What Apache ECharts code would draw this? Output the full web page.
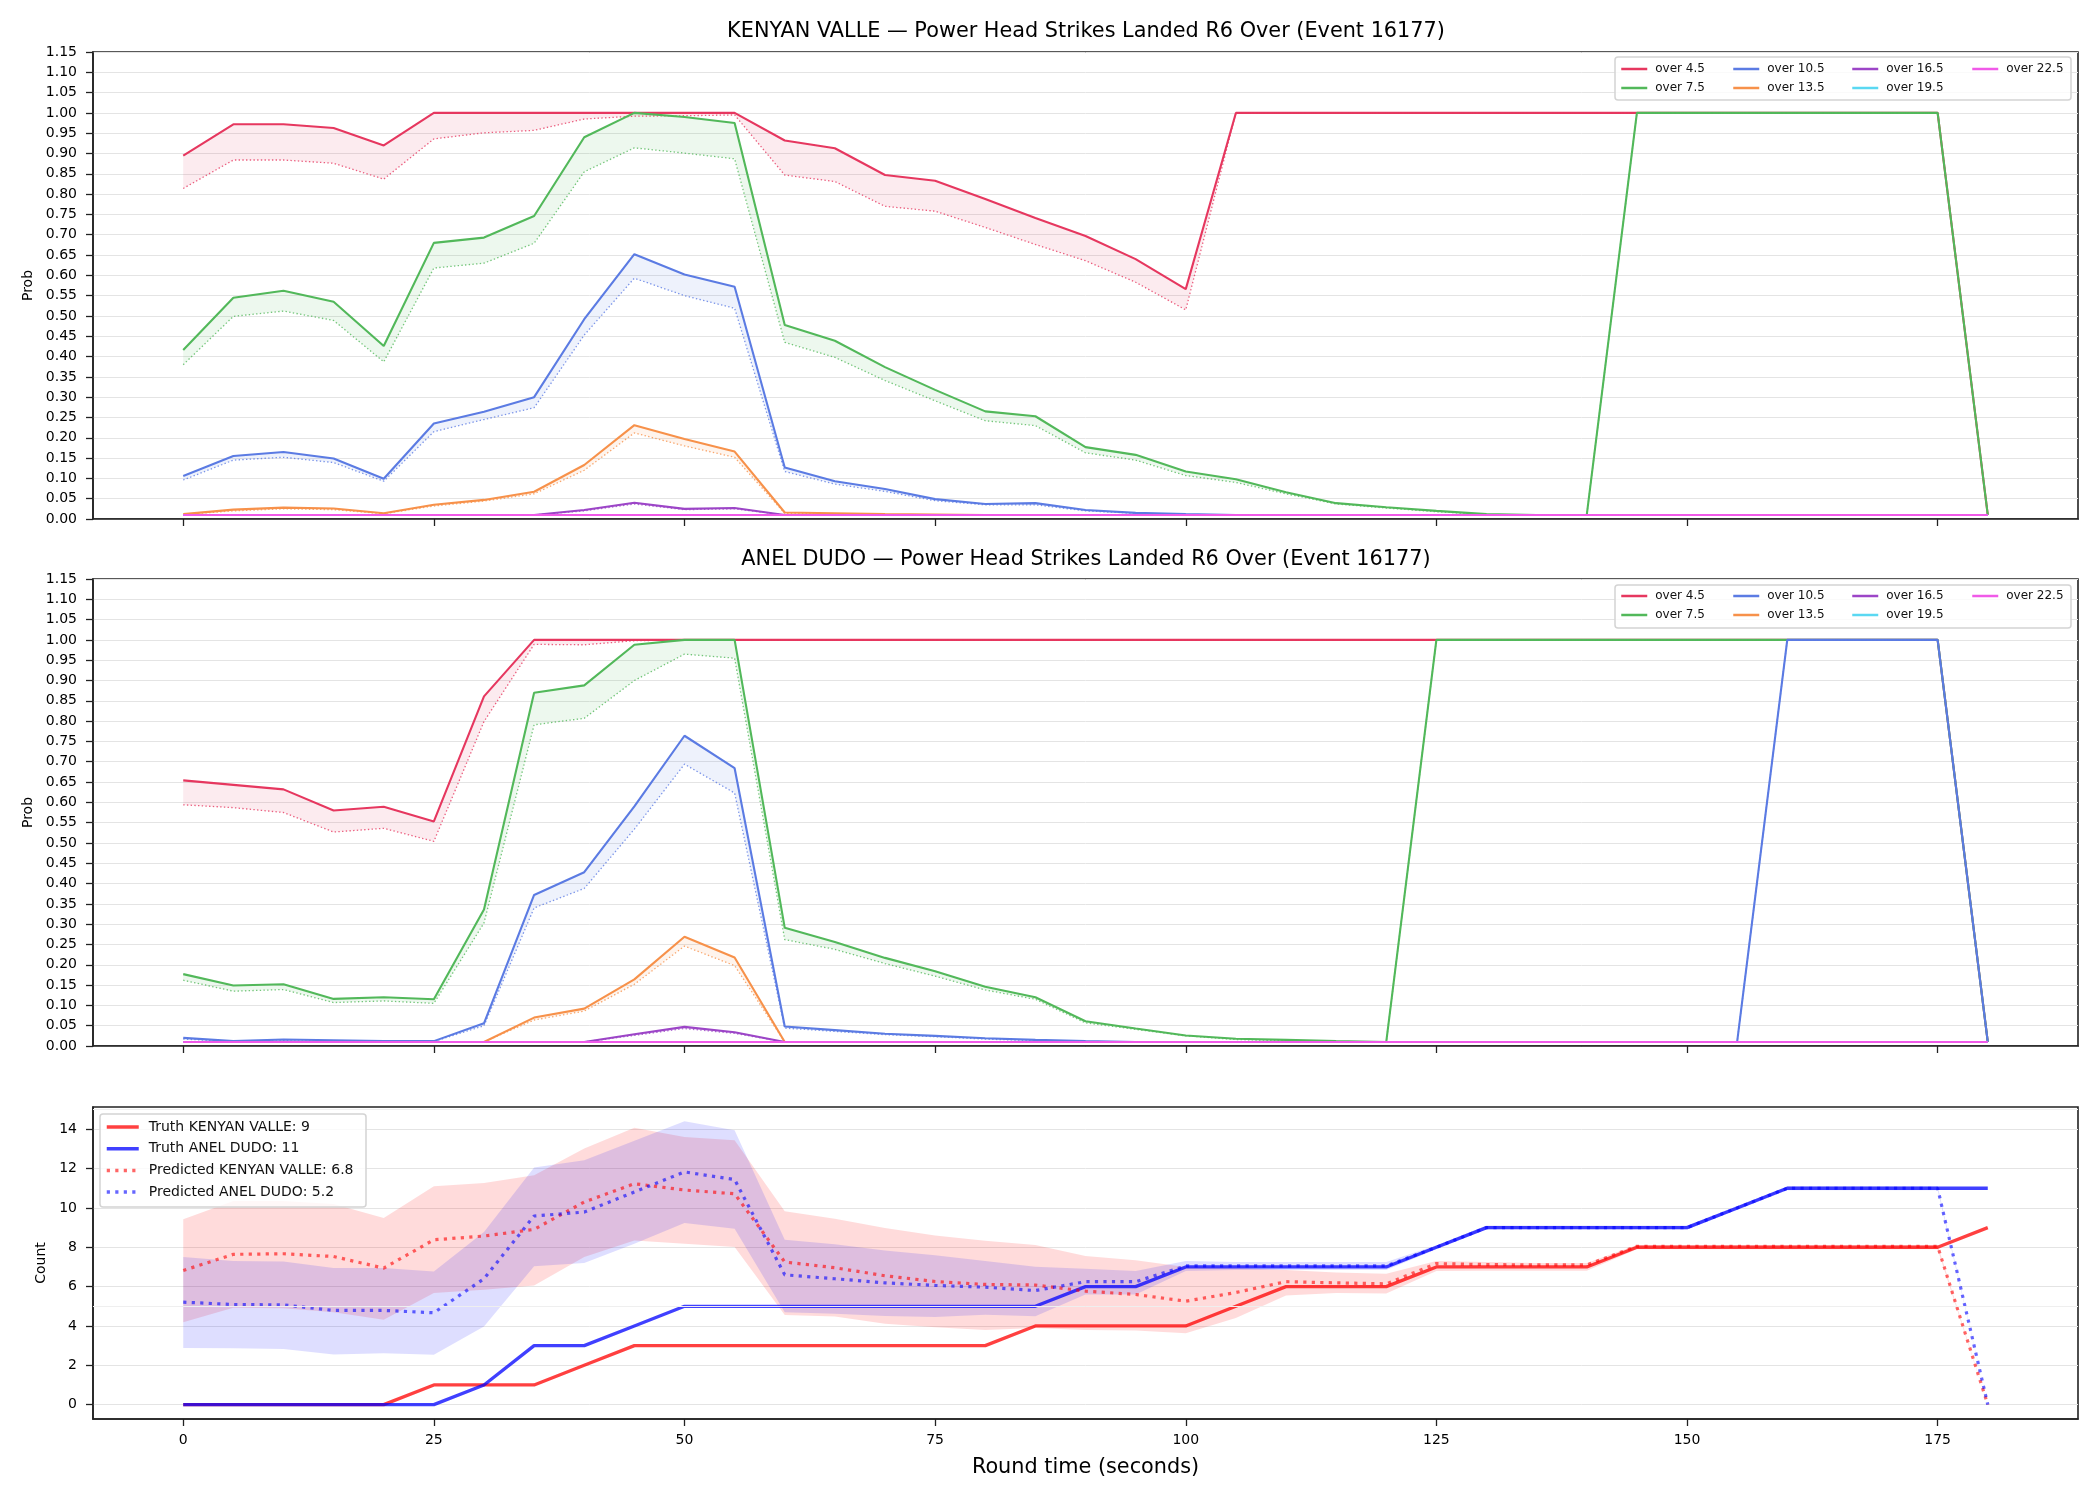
<!DOCTYPE html>
<html>
<head>
<meta charset="utf-8">
<title>Power Head Strikes Landed R6 Over (Event 16177)</title>
<script src="https://cdn.jsdelivr.net/npm/echarts@6/dist/echarts.min.js"></script>
<style>
  html, body { margin: 0; padding: 0; background: #fff; }
  #chart { width: 2100px; height: 1500px; }
</style>
</head>
<body>
<div id="chart"></div>
<script>
// round time (seconds), one point every 5 s
var times = [0, 5, 10, 15, 20, 25, 30, 35, 40, 45, 50, 55, 60, 65, 70, 75, 80, 85, 90,
  95, 100, 105, 110, 115, 120, 125, 130, 135, 140, 145, 150, 155, 160, 165, 170, 175, 180];
var xTicks = [0, 25, 50, 75, 100, 125, 150, 175];
var countTicks = [0, 2, 4, 6, 8, 10, 12, 14];

var lineNames = ['over 4.5', 'over 7.5', 'over 10.5', 'over 13.5', 'over 16.5', 'over 19.5', 'over 22.5'];
var lineColors = ['#e6375f', '#52b85a', '#5b7be3', '#f7914a', '#9c45c7', '#5ad8f2', '#f05ae8'];

// ---- KENYAN VALLE, solid = model line, p = dotted line
var kv45 = [0.895, 0.972, 0.972, 0.963, 0.920, 1, 1, 1, 1, 1, 1, 1,
  0.932, 0.913, 0.847, 0.833, 0.788, 0.741, 0.697, 0.640, 0.566,
  1, 1, 1, 1, 1, 1, 1, 1, 1, 1, 1, 1, 1, 1, 1, 0.01];
var kv45p = [0.814, 0.884, 0.884, 0.876, 0.837, 0.936, 0.951, 0.957, 0.985, 0.992, 0.993, 0.995,
  0.847, 0.831, 0.770, 0.758, 0.718, 0.676, 0.636, 0.583, 0.515,
  1, 1, 1, 1, 1, 1, 1, 1, 1, 1, 1, 1, 1, 1, 1, 0.01];
var kv75 = [0.416, 0.545, 0.562, 0.535, 0.426, 0.680, 0.693, 0.746, 0.940, 1.0, 0.990, 0.975,
  0.478, 0.439, 0.374, 0.318, 0.265, 0.253, 0.177, 0.158, 0.117,
  0.098, 0.066, 0.039, 0.029, 0.020, 0.012, 0.010, 0.010,
  1, 1, 1, 1, 1, 1, 1, 0.01];
var kv75p = [0.380, 0.499, 0.512, 0.489, 0.387, 0.618, 0.630, 0.679, 0.855, 0.914, 0.901, 0.887,
  0.435, 0.398, 0.341, 0.291, 0.242, 0.230, 0.163, 0.145, 0.107,
  0.090, 0.062, 0.037, 0.027, 0.018, 0.011, 0.010, 0.010,
  1, 1, 1, 1, 1, 1, 1, 0.01];
var kv105 = [0.106, 0.155, 0.165, 0.149, 0.099, 0.235, 0.264, 0.300, 0.492, 0.652, 0.602, 0.572,
  0.127, 0.093, 0.074, 0.049, 0.037, 0.039, 0.022, 0.015, 0.012,
  0.010, 0.010, 0.010, 0.010, 0.010, 0.010, 0.010, 0.010,
  0.010, 0.010, 0.010, 0.010, 0.010, 0.010, 0.010, 0.010];
var kv105p = [0.096, 0.145, 0.152, 0.139, 0.093, 0.215, 0.245, 0.274, 0.453, 0.593, 0.550, 0.519,
  0.117, 0.086, 0.068, 0.045, 0.035, 0.035, 0.020, 0.014, 0.011,
  0.010, 0.010, 0.010, 0.010, 0.010, 0.010, 0.010, 0.010,
  0.010, 0.010, 0.010, 0.010, 0.010, 0.010, 0.010, 0.010];
var kv135 = [0.012, 0.023, 0.028, 0.026, 0.014, 0.035, 0.047, 0.067, 0.133, 0.231, 0.197, 0.166,
  0.016, 0.014, 0.012, 0.011, 0.010, 0.010, 0.010, 0.010, 0.010,
  0.010, 0.010, 0.010, 0.010, 0.010, 0.010, 0.010, 0.010,
  0.010, 0.010, 0.010, 0.010, 0.010, 0.010, 0.010, 0.010];
var kv135p = [0.011, 0.020, 0.025, 0.023, 0.013, 0.032, 0.044, 0.062, 0.120, 0.212, 0.180, 0.152,
  0.014, 0.012, 0.011, 0.010, 0.010, 0.010, 0.010, 0.010, 0.010,
  0.010, 0.010, 0.010, 0.010, 0.010, 0.010, 0.010, 0.010,
  0.010, 0.010, 0.010, 0.010, 0.010, 0.010, 0.010, 0.010];
var kv165 = [0.010, 0.010, 0.010, 0.010, 0.010, 0.010, 0.010, 0.010, 0.022, 0.040, 0.025, 0.027,
  0.010, 0.010, 0.010, 0.010, 0.010, 0.010, 0.010, 0.010, 0.010,
  0.010, 0.010, 0.010, 0.010, 0.010, 0.010, 0.010, 0.010,
  0.010, 0.010, 0.010, 0.010, 0.010, 0.010, 0.010, 0.010];
var kv165p = [0.010, 0.010, 0.010, 0.010, 0.010, 0.010, 0.010, 0.010, 0.020, 0.037, 0.023, 0.025,
  0.010, 0.010, 0.010, 0.010, 0.010, 0.010, 0.010, 0.010, 0.010,
  0.010, 0.010, 0.010, 0.010, 0.010, 0.010, 0.010, 0.010,
  0.010, 0.010, 0.010, 0.010, 0.010, 0.010, 0.010, 0.010];
// over 19.5 / over 22.5 sit on the floor the whole round (both players)
var floorProb = [0.010, 0.010, 0.010, 0.010, 0.010, 0.010, 0.010, 0.010, 0.010, 0.010, 0.010, 0.010,
  0.010, 0.010, 0.010, 0.010, 0.010, 0.010, 0.010, 0.010, 0.010,
  0.010, 0.010, 0.010, 0.010, 0.010, 0.010, 0.010, 0.010,
  0.010, 0.010, 0.010, 0.010, 0.010, 0.010, 0.010, 0.010];

// ---- ANEL DUDO
var ad45 = [0.654, 0.643, 0.632, 0.580, 0.589, 0.553, 0.861, 1, 1, 1, 1, 1,
  1, 1, 1, 1, 1, 1, 1, 1, 1,
  1, 1, 1, 1, 1, 1, 1, 1, 1, 1, 1, 1, 1, 1, 1, 0.01];
var ad45p = [0.594, 0.587, 0.575, 0.527, 0.536, 0.504, 0.799, 0.989, 0.988, 0.998, 1, 1,
  1, 1, 1, 1, 1, 1, 1, 1, 1,
  1, 1, 1, 1, 1, 1, 1, 1, 1, 1, 1, 1, 1, 1, 1, 0.01];
var ad75 = [0.177, 0.149, 0.152, 0.116, 0.120, 0.115, 0.336, 0.870, 0.888, 0.988, 1, 1,
  0.291, 0.256, 0.217, 0.184, 0.146, 0.120, 0.061, 0.043, 0.026,
  0.018, 0.015, 0.012, 0.010, 1, 1, 1, 1, 1, 1, 1, 1, 1, 1, 1, 0.01];
var ad75p = [0.162, 0.135, 0.139, 0.107, 0.111, 0.105, 0.303, 0.791, 0.807, 0.900, 0.965, 0.955,
  0.262, 0.238, 0.203, 0.172, 0.138, 0.115, 0.057, 0.041, 0.025,
  0.016, 0.013, 0.011, 0.010, 1, 1, 1, 1, 1, 1, 1, 1, 1, 1, 1, 0.01];
var ad105 = [0.020, 0.012, 0.016, 0.014, 0.012, 0.012, 0.056, 0.372, 0.428, 0.590, 0.764, 0.684,
  0.048, 0.039, 0.030, 0.025, 0.019, 0.015, 0.012, 0.010, 0.010,
  0.010, 0.010, 0.010, 0.010, 0.010, 0.010, 0.010, 0.010, 0.010, 0.010, 0.010,
  1, 1, 1, 1, 0.01];
var ad105p = [0.017, 0.011, 0.013, 0.012, 0.011, 0.011, 0.050, 0.340, 0.388, 0.534, 0.694, 0.623,
  0.044, 0.036, 0.028, 0.023, 0.017, 0.013, 0.011, 0.010, 0.010,
  0.010, 0.010, 0.010, 0.010, 0.010, 0.010, 0.010, 0.010, 0.010, 0.010, 0.010,
  1, 1, 1, 1, 0.01];
var ad135 = [0.010, 0.010, 0.010, 0.010, 0.010, 0.010, 0.010, 0.070, 0.092, 0.164, 0.269, 0.218,
  0.010, 0.010, 0.010, 0.010, 0.010, 0.010, 0.010, 0.010, 0.010,
  0.010, 0.010, 0.010, 0.010, 0.010, 0.010, 0.010, 0.010,
  0.010, 0.010, 0.010, 0.010, 0.010, 0.010, 0.010, 0.010];
var ad135p = [0.010, 0.010, 0.010, 0.010, 0.010, 0.010, 0.010, 0.064, 0.086, 0.152, 0.246, 0.198,
  0.010, 0.010, 0.010, 0.010, 0.010, 0.010, 0.010, 0.010, 0.010,
  0.010, 0.010, 0.010, 0.010, 0.010, 0.010, 0.010, 0.010,
  0.010, 0.010, 0.010, 0.010, 0.010, 0.010, 0.010, 0.010];
var ad165 = [0.010, 0.010, 0.010, 0.010, 0.010, 0.010, 0.010, 0.010, 0.010, 0.029, 0.047, 0.034,
  0.010, 0.010, 0.010, 0.010, 0.010, 0.010, 0.010, 0.010, 0.010,
  0.010, 0.010, 0.010, 0.010, 0.010, 0.010, 0.010, 0.010,
  0.010, 0.010, 0.010, 0.010, 0.010, 0.010, 0.010, 0.010];
var ad165p = [0.010, 0.010, 0.010, 0.010, 0.010, 0.010, 0.010, 0.010, 0.010, 0.026, 0.043, 0.031,
  0.010, 0.010, 0.010, 0.010, 0.010, 0.010, 0.010, 0.010, 0.010,
  0.010, 0.010, 0.010, 0.010, 0.010, 0.010, 0.010, 0.010,
  0.010, 0.010, 0.010, 0.010, 0.010, 0.010, 0.010, 0.010];

// ---- running count
var truthKV = [0, 0, 0, 0, 0, 1, 1, 1, 2, 3, 3, 3, 3, 3, 3, 3, 3, 4, 4,
  4, 4, 5, 6, 6, 6, 7, 7, 7, 7, 8, 8, 8, 8, 8, 8, 8, 9];
var truthAD = [0, 0, 0, 0, 0, 0, 1, 3, 3, 4, 5, 5, 5, 5, 5, 5, 5, 5, 6,
  6, 7, 7, 7, 7, 7, 8, 9, 9, 9, 9, 9, 10, 11, 11, 11, 11, 11];
var predKV = [6.82, 7.64, 7.67, 7.53, 6.94, 8.38, 8.57, 8.91, 10.30, 11.23, 10.91, 10.72,
  7.25, 6.96, 6.55, 6.26, 6.11, 6.08, 5.77, 5.60, 5.26, 5.70, 6.25, 6.19, 6.14,
  7.17, 7.12, 7.10, 7.10, 8.05, 8.05, 8.05, 8.05, 8.05, 8.05, 8.05, 0];
var predAD = [5.21, 5.09, 5.07, 4.79, 4.79, 4.67, 6.40, 9.59, 9.79, 10.81, 11.83, 11.44,
  6.60, 6.40, 6.19, 6.06, 5.97, 5.80, 6.25, 6.25, 7.05, 7.05, 7.05, 7.05, 7.05,
  8.00, 9.00, 9.00, 9.00, 9.00, 9.00, 10.00, 11.00, 11.00, 11.00, 11.00, 0];
var kvHigh = [9.42, 10.35, 10.35, 10.20, 9.49, 11.10, 11.27, 11.66, 13.02, 14.07, 13.61, 13.44,
  9.83, 9.45, 8.98, 8.60, 8.33, 8.11, 7.56, 7.34, 7.00, 6.95, 6.85, 6.72, 6.65,
  7.30, 7.25, 7.20, 7.20, 8.12, 8.12, 8.12, 8.12, 8.12, 8.12, 8.12, 0];
var kvLow = [4.19, 4.92, 4.90, 4.70, 4.31, 5.68, 5.84, 6.06, 7.50, 8.35, 8.18, 8.01,
  4.56, 4.48, 4.11, 3.94, 3.80, 3.90, 3.80, 3.77, 3.63, 4.40, 5.55, 5.68, 5.65,
  6.79, 6.80, 6.80, 6.80, 7.90, 7.90, 7.90, 7.90, 7.90, 7.90, 7.90, 0];
var adHigh = [7.50, 7.30, 7.28, 6.94, 6.94, 6.77, 8.77, 12.05, 12.42, 13.41, 14.41, 13.95,
  8.38, 8.15, 7.84, 7.59, 7.30, 7.01, 6.91, 6.79, 7.30, 7.25, 7.25, 7.25, 7.25,
  8.10, 9.10, 9.10, 9.10, 9.10, 9.10, 10.10, 11.10, 11.10, 11.10, 11.10, 0];
var adLow = [2.88, 2.87, 2.83, 2.55, 2.61, 2.53, 3.97, 7.03, 7.20, 8.18, 9.23, 8.94,
  4.70, 4.62, 4.50, 4.45, 4.57, 4.49, 5.60, 5.60, 6.79, 6.85, 6.85, 6.85, 6.85,
  7.90, 8.90, 8.90, 8.90, 8.90, 8.90, 9.90, 10.90, 10.90, 10.90, 10.90, 0];

var FONT = 'DejaVu Sans';
var chart = echarts.init(document.getElementById('chart'));

function rgba(hex, a) {
  var n = parseInt(hex.slice(1), 16);
  return 'rgba(' + (n >> 16) + ',' + ((n >> 8) & 255) + ',' + (n & 255) + ',' + a + ')';
}

function pairs(vals) {
  return times.map(function (t, i) { return [t, vals[i]]; });
}

function lineSeries(gi, name, vals, color, width, dash, z) {
  return {
    type: 'line', name: name, xAxisIndex: gi, yAxisIndex: gi,
    data: pairs(vals), symbol: 'none', silent: true, z: z || 2,
    lineStyle: { color: color, width: width, type: dash || 'solid', cap: 'butt' },
    itemStyle: { color: color }
  };
}

// filled polygon between two curves, drawn through the axis scales
function bandSeries(gi, upper, lower, fill, extra) {
  var s = {
    type: 'custom', xAxisIndex: gi, yAxisIndex: gi, silent: true, z: 1,
    data: times.map(function (t, i) { return [t, upper[i], lower[i]]; }),
    encode: { x: 0, y: [1, 2] },
    renderItem: function (params, api) {
      if (params.dataIndex !== 0) return null;
      var pts = [], i;
      for (i = 0; i < times.length; i++) pts.push(api.coord([times[i], upper[i]]));
      for (i = times.length - 1; i >= 0; i--) pts.push(api.coord([times[i], lower[i]]));
      return { type: 'polygon', shape: { points: pts }, style: { fill: fill, stroke: null } };
    }
  };
  if (extra) Object.assign(s, extra);
  return s;
}

var series = [];
function addProb(gi, k, solid, dotted) {
  var c = lineColors[k];
  series.push(bandSeries(gi, solid, dotted, rgba(c, 0.1)));
  series.push(lineSeries(gi, lineNames[k], solid, c, 2.1, 'solid', 2));
  series.push(lineSeries(gi, lineNames[k] + ' (dotted)', dotted, rgba(c, 0.8), 1.3, [1.4, 2.3], 2));
}
addProb(0, 0, kv45, kv45p);
addProb(0, 1, kv75, kv75p);
addProb(0, 2, kv105, kv105p);
addProb(0, 3, kv135, kv135p);
addProb(0, 4, kv165, kv165p);
addProb(0, 5, floorProb, floorProb);
addProb(0, 6, floorProb, floorProb);
addProb(1, 0, ad45, ad45p);
addProb(1, 1, ad75, ad75p);
addProb(1, 2, ad105, ad105p);
addProb(1, 3, ad135, ad135p);
addProb(1, 4, ad165, ad165p);
addProb(1, 5, floorProb, floorProb);
addProb(1, 6, floorProb, floorProb);

series.push(bandSeries(2, kvHigh, kvLow, 'rgba(255,0,0,0.14)', {
  markLine: {
    silent: true, symbol: 'none', label: { show: false },
    lineStyle: { color: '#efefef', width: 1, type: 'solid' },
    data: [{ yAxis: 5 }, { yAxis: 15 }]
  }
}));
series.push(bandSeries(2, adHigh, adLow, 'rgba(0,0,255,0.13)'));
series.push(lineSeries(2, 'Truth KENYAN VALLE: 9', truthKV, 'rgba(255,0,0,0.75)', 3.3, 'solid', 3));
series.push(lineSeries(2, 'Truth ANEL DUDO: 11', truthAD, 'rgba(0,0,255,0.75)', 3.3, 'solid', 3));
series.push(lineSeries(2, 'Predicted KENYAN VALLE: 6.8', predKV, 'rgba(255,0,0,0.6)', 3.2, [3.2, 5.3], 3));
series.push(lineSeries(2, 'Predicted ANEL DUDO: 5.2', predAD, 'rgba(0,0,255,0.6)', 3.2, [3.2, 5.3], 3));

var gridBox = { show: true, borderColor: '#222', borderWidth: 1.6, backgroundColor: '#fff' };
var grids = [
  Object.assign({ left: 93, right: 22, top: 52, height: 467 }, gridBox),
  Object.assign({ left: 93, right: 22, top: 579, height: 467 }, gridBox),
  Object.assign({ left: 93, right: 22, top: 1107, height: 312 }, gridBox)
];

function xAxisFor(gi, labels) {
  var ax = {
    type: 'value', gridIndex: gi, min: -9, max: 189,
    axisLine: { show: true, onZero: false, lineStyle: { color: '#222', width: 1.6 } },
    axisTick: { show: true, customValues: xTicks, length: 7, lineStyle: { color: '#222', width: 1.3 } },
    axisLabel: { show: labels, customValues: xTicks, fontSize: 14, color: '#000', margin: 14, fontFamily: FONT },
    splitLine: { show: false }
  };
  if (labels) {
    ax.name = 'Round time (seconds)';
    ax.nameLocation = 'middle';
    ax.nameGap = 38;
    ax.nameTextStyle = { fontSize: 20.8, color: '#000', fontFamily: FONT };
  }
  return ax;
}

function yAxisProb(gi) {
  return {
    type: 'value', gridIndex: gi, min: 0, max: 1.15, interval: 0.05,
    name: 'Prob', nameLocation: 'middle', nameGap: 58, nameRotate: 90,
    nameTextStyle: { fontSize: 14, color: '#000', fontFamily: FONT },
    axisLine: { show: true, onZero: false, lineStyle: { color: '#222', width: 1.6 } },
    axisTick: { show: true, length: 7, lineStyle: { color: '#222', width: 1.3 } },
    axisLabel: {
      fontSize: 14, color: '#000', margin: 16, fontFamily: FONT,
      formatter: function (v) { return v.toFixed(2); }
    },
    splitLine: { show: true, lineStyle: { color: '#e4e4e4', width: 1 } }
  };
}

var yCount = {
  type: 'value', gridIndex: 2, min: -0.73, max: 15.13,
  name: 'Count', nameLocation: 'middle', nameGap: 45, nameRotate: 90,
  nameTextStyle: { fontSize: 14, color: '#000', fontFamily: FONT },
  axisLine: { show: true, onZero: false, lineStyle: { color: '#222', width: 1.6 } },
  axisTick: { show: true, customValues: countTicks, length: 7, lineStyle: { color: '#222', width: 1.3 } },
  axisLabel: { customValues: countTicks, fontSize: 14, color: '#000', margin: 16, fontFamily: FONT },
  splitLine: { show: true, lineStyle: { color: '#e4e4e4', width: 1 } }
};

// matplotlib style legends: one vertical legend per column
var legendCols = [[0, 1], [2, 3], [4, 5], [6]];
var colLeft = [1615, 1727, 1846, 1966];
var legends = [];
[58, 585].forEach(function (top) {
  legendCols.forEach(function (col, c) {
    legends.push({
      orient: 'vertical', left: colLeft[c], top: top, z: 5,
      data: col.map(function (k) { return lineNames[k]; }),
      itemWidth: 26, itemHeight: 12, itemGap: 7, selectedMode: false,
      itemStyle: { opacity: 0 },
      lineStyle: { width: 2.5 },
      textStyle: { fontSize: 12, color: '#111', fontFamily: FONT, padding: [0, 0, 0, 3] }
    });
  });
});
legends.push({
  orient: 'vertical', left: 100, top: 1115, z: 5,
  data: ['Truth KENYAN VALLE: 9', 'Truth ANEL DUDO: 11', 'Predicted KENYAN VALLE: 6.8', 'Predicted ANEL DUDO: 5.2'],
  itemWidth: 32, itemHeight: 14, itemGap: 7.7, selectedMode: false,
  itemStyle: { opacity: 0 },
  lineStyle: { width: 3.5 },
  textStyle: { fontSize: 14, color: '#111', fontFamily: FONT, padding: [0, 0, 0, 5] }
});

function frame(x, y, w, h) {
  return {
    type: 'rect', z: 4, silent: true,
    shape: { x: x, y: y, width: w, height: h, r: 3 },
    style: { fill: 'rgba(255,255,255,0.8)', stroke: '#d4d4d4', lineWidth: 1.5 }
  };
}
function titleText(y, text) {
  return {
    type: 'text', x: 1086, y: y, z: 5, silent: true,
    style: { text: text, fontSize: 20.8, fontFamily: FONT, fill: '#000', align: 'center', verticalAlign: 'middle' }
  };
}

chart.setOption({
  animation: false,
  backgroundColor: '#fff',
  grid: grids,
  xAxis: [xAxisFor(0, false), xAxisFor(1, false), xAxisFor(2, true)],
  yAxis: [yAxisProb(0), yAxisProb(1), yCount],
  legend: legends,
  graphic: {
    elements: [
      titleText(32, 'KENYAN VALLE \u2014 Power Head Strikes Landed R6 Over (Event 16177)'),
      titleText(560, 'ANEL DUDO \u2014 Power Head Strikes Landed R6 Over (Event 16177)'),
      frame(1615, 57, 456, 43),
      frame(1615, 585, 456, 43),
      frame(100, 1114, 266, 93)
    ]
  },
  series: series
});
</script>
</body>
</html>
